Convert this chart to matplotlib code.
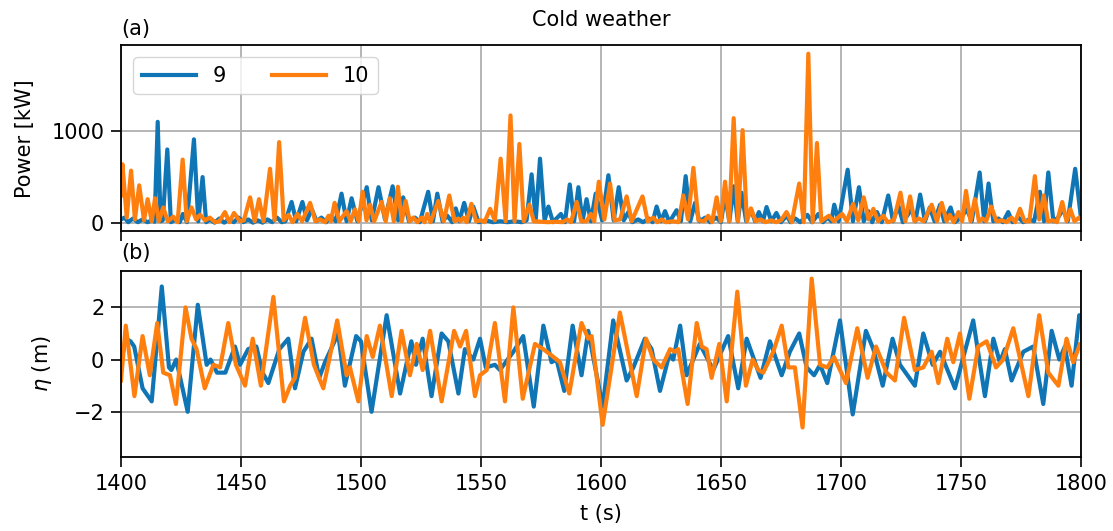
import matplotlib
matplotlib.use("Agg")
import matplotlib.pyplot as plt
import numpy as np

# (t [s], power [kW])
power_9 = [
    (1400, 40), (1401.5, 60), (1403, 10), (1405, 50), (1407, 10), (1409, 40), (1411, 10),
    (1413, 30), (1414, 15), (1415.3, 1100), (1416.5, 20), (1417.4, 30), (1419.3, 800),
    (1420.8, 10), (1423, 40), (1424.5, 10), (1425.8, 100), (1427.5, 10), (1430.4, 910),
    (1432.2, 20), (1434, 500), (1435.5, 10), (1437, 40), (1439, 5), (1441, 50), (1443, 5),
    (1445, 40), (1447, 10), (1449, 60), (1451, 10), (1453, 40), (1455, 5), (1457, 30),
    (1459, 5), (1461, 40), (1463, 10), (1465, 60), (1467, 10), (1468.5, 20), (1471.1, 230),
    (1473, 20), (1475.6, 230), (1477.5, 30), (1479.5, 150), (1481.5, 20), (1483.5, 60),
    (1485.5, 10), (1487.5, 80), (1489.5, 20), (1491.9, 320), (1494, 20), (1496.1, 270),
    (1498.5, 20), (1502.4, 390), (1504.5, 30), (1507.3, 390), (1510, 40), (1513.2, 400),
    (1515.5, 30), (1517.6, 280), (1520, 20), (1522.5, 60), (1524.5, 10), (1528, 340),
    (1530, 20), (1531.8, 320), (1534, 20), (1536, 80), (1538, 10), (1539.5, 160),
    (1541, 20), (1543, 220), (1545, 20), (1546.8, 180), (1549, 10), (1552, 30), (1555, 10),
    (1558, 20), (1561, 10), (1564, 20), (1567, 10), (1569, 30), (1571.1, 530), (1572.8, 30),
    (1574.6, 700), (1576.5, 30), (1578.1, 180), (1580, 10), (1583.3, 100), (1585, 10),
    (1587, 420), (1588.8, 20), (1590.6, 390), (1592.3, 20), (1594, 260), (1595.8, 20),
    (1597.8, 320), (1600.5, 30), (1603.1, 520), (1605.3, 30), (1607.4, 390), (1609.5, 30),
    (1611.4, 120), (1613, 10), (1615.5, 40), (1617.5, 10), (1620, 50), (1621.5, 10),
    (1623.2, 180), (1625, 20), (1626.7, 130), (1628.5, 10), (1631.5, 140), (1633.3, 20),
    (1635.3, 510), (1637.2, 20), (1639.2, 220), (1641, 20), (1643.5, 60), (1645.5, 10),
    (1648, 60), (1650, 10), (1651.7, 300), (1653.5, 20), (1655.3, 400), (1657, 20),
    (1658.6, 330), (1660.5, 20), (1662.5, 150), (1664.2, 20), (1665.8, 120), (1667.5, 20),
    (1669, 175), (1671, 20), (1673.1, 110), (1675, 10), (1677.4, 80), (1679, 10), (1681, 50),
    (1683, 10), (1686, 90), (1688, 10), (1690.6, 100), (1692.5, 10), (1694.5, 60), (1696, 20),
    (1697.2, 200), (1699, 20), (1702.8, 580), (1705, 20), (1707.5, 390), (1709.5, 20),
    (1711.4, 130), (1713, 10), (1715, 120), (1717, 10), (1719.7, 300), (1721.7, 20),
    (1723.9, 190), (1725.8, 10), (1729.4, 150), (1731, 20), (1733, 310), (1735, 20),
    (1737, 170), (1739, 20), (1741.3, 200), (1743, 20), (1745.7, 170), (1747.5, 10),
    (1750, 60), (1752.5, 150), (1754.5, 20), (1757.8, 550), (1759.7, 20), (1761.5, 430),
    (1763.5, 20), (1765.6, 50), (1767.5, 10), (1769.7, 120), (1771.5, 10), (1774, 60),
    (1776, 10), (1778.5, 40), (1780.5, 20), (1782.9, 340), (1784.6, 20), (1786.4, 550),
    (1788.5, 20), (1790.5, 60), (1792.5, 150), (1794.5, 20), (1797.6, 590), (1799.4, 200),
    (1800, 60),
]

power_10 = [
    (1400, 300), (1400.6, 640), (1402.4, 60), (1404.2, 570), (1405.8, 40), (1407.6, 410),
    (1409.6, 30), (1411.1, 260), (1412.8, 20), (1414.2, 270), (1415.8, 20), (1417.6, 170),
    (1419.5, 20), (1421.8, 70), (1423.6, 10), (1425.7, 690), (1427.4, 20), (1429.4, 170),
    (1431.3, 40), (1433, 90), (1435, 30), (1437, 60), (1439.2, 10), (1441, 20), (1443.3, 120),
    (1445.2, 10), (1447.1, 110), (1449.6, 20), (1451.2, 30), (1453.8, 280), (1455.7, 20),
    (1457.5, 260), (1459.4, 20), (1462.1, 590), (1464, 30), (1465.9, 880), (1467.8, 30),
    (1469.8, 90), (1471.5, 10), (1473.5, 100), (1475.5, 20), (1478.8, 220), (1481, 20),
    (1483, 40), (1485, 10), (1486.5, 80), (1487.5, 20), (1489, 220), (1491, 20), (1494, 130),
    (1495.7, 20), (1497.5, 150), (1499, 20), (1500.7, 340), (1502.3, 30), (1503.8, 200),
    (1505.5, 20), (1508.6, 230), (1510.3, 20), (1512, 270), (1513.7, 20), (1515.4, 395),
    (1517, 20), (1518.6, 240), (1520.3, 20), (1521.8, 60), (1523.5, 10), (1525.3, 60),
    (1526.5, 10), (1527.6, 100), (1529, 10), (1532.2, 240), (1534.5, 20), (1536.8, 300),
    (1539, 20), (1540.5, 50), (1541.5, 20), (1542.6, 60), (1544, 10), (1546, 210),
    (1548, 20), (1550, 30), (1551.5, 10), (1553.8, 155), (1555.8, 30), (1558.2, 700),
    (1560.3, 20), (1562.3, 1170), (1564, 20), (1566, 860), (1567.8, 20), (1570.2, 200),
    (1572, 20), (1575, 15), (1578, 10), (1581, 15), (1584, 10), (1586, 40), (1587.5, 10),
    (1589.9, 230), (1591.8, 20), (1594, 20), (1595.8, 100), (1597.2, 20), (1599.1, 450),
    (1601.4, 40), (1603.8, 430), (1605.7, 30), (1608, 40), (1610.7, 290), (1612.8, 20),
    (1617.3, 290), (1619.5, 20), (1621.8, 60), (1623.5, 10), (1625.3, 40), (1627, 10),
    (1630, 20), (1632.3, 10), (1634.3, 300), (1636.3, 40), (1638.5, 600), (1640.6, 30),
    (1643, 20), (1644.7, 80), (1646.3, 10), (1648.2, 280), (1649.9, 20), (1651.7, 450),
    (1653.4, 20), (1655.3, 1140), (1657.1, 20), (1659, 1010), (1660.8, 20), (1662.5, 160),
    (1664.5, 20), (1666.5, 40), (1668.5, 10), (1671, 30), (1673, 10), (1675, 30),
    (1677.3, 120), (1679.5, 10), (1682.6, 430), (1684.5, 10), (1686.4, 1840), (1688.2, 10),
    (1690, 870), (1691.8, 20), (1693.3, 50), (1695, 80), (1697, 20), (1700.5, 100),
    (1702.5, 20), (1705.1, 210), (1707.2, 30), (1709.5, 280), (1711.5, 40), (1713.5, 155),
    (1715.5, 20), (1717.6, 80), (1719.5, 10), (1722, 30), (1724.8, 330), (1726.8, 20),
    (1728.8, 290), (1730.6, 20), (1732.5, 50), (1734.5, 20), (1737.8, 200), (1740, 20),
    (1742, 220), (1744, 20), (1745.4, 90), (1747, 10), (1748.9, 120), (1750.5, 20),
    (1752.1, 350), (1754, 20), (1755.8, 260), (1757.5, 20), (1759, 50), (1760.5, 20),
    (1762.6, 180), (1764.8, 20), (1767, 30), (1769, 10), (1771.1, 60), (1772.6, 10),
    (1774.6, 155), (1776.5, 20), (1778.5, 20), (1780.8, 510), (1782.6, 40), (1784.5, 300),
    (1786.3, 20), (1788.3, 30), (1790, 10), (1792.2, 230), (1794, 20), (1795.6, 150),
    (1797.3, 20), (1799.2, 60), (1800, 40),
]

# (t [s], eta [m])
eta_9 = [
    (1400, -0.1), (1402, 0.8), (1404, 0.7), (1405.5, 0.5), (1409, -1.1), (1410.5, -1.3),
    (1412.8, -1.6), (1417, 2.8), (1420, -0.3), (1421, -0.4), (1423, 0.0), (1427.8, -2.0),
    (1432, 2.1), (1435.7, -0.2), (1437.3, 0.0), (1440, -0.5), (1443.5, -0.5), (1447.5, 0.5),
    (1449.6, -0.2), (1453, 0.4), (1456.4, 0.5), (1459, -0.5), (1461.4, -0.9), (1466, 0.4),
    (1469.7, 0.8), (1472.5, -1.1), (1476, 0.3), (1479.4, 0.8), (1482.6, -0.7), (1485, -0.1),
    (1490.5, 1.0), (1493.3, -1.0), (1498, 0.9), (1500, 0.7), (1504.4, -2.0), (1510.7, 1.7),
    (1516.3, -1.3), (1521, 0.7), (1522.9, -0.2), (1525.7, 0.8), (1529.4, -1.4), (1533.6, 1.0),
    (1536.4, 0.7), (1540.6, -1.3), (1543.3, 0.4), (1546.8, 0.0), (1549.6, 0.8), (1552, -0.3),
    (1555.8, -0.2), (1557.9, -0.4), (1563.5, 0.3), (1567.6, 0.9), (1572, -1.8), (1576, 1.3),
    (1579.4, -0.1), (1581.5, 0.0), (1584.7, -1.2), (1588.2, 1.3), (1591.9, -0.6), (1594.7, 1.1),
    (1600.7, -1.8), (1605.1, 1.5), (1610.7, -0.8), (1613.5, -0.3), (1618.3, 0.8), (1621.1, 0.4),
    (1624.6, -1.2), (1628.5, 0.2), (1630.1, 0.0), (1633, 1.3), (1635.7, -0.6), (1641.2, 0.6),
    (1646.8, -0.4), (1653, 0.9), (1657.2, -1.1), (1660.7, 0.8), (1666.5, -0.7), (1670.4, 0.7),
    (1675.3, -0.6), (1678.7, 0.3), (1682.6, 1.0), (1685.7, -0.3), (1688.8, -0.6), (1691.3, -0.2),
    (1694.3, -0.9), (1699.6, 1.5), (1704.9, -2.1), (1710.4, 1.1), (1713.5, 0.4), (1717.4, -1.0),
    (1721.5, 0.8), (1724.6, -0.2), (1730.8, -1.0), (1734.3, 1.0), (1738.2, -0.2), (1741.3, 0.3),
    (1747.5, -1.1), (1755.1, 1.5), (1760, -1.4), (1763.5, 0.8), (1766.2, -0.1), (1768.3, 0.4),
    (1771.1, -0.8), (1776, 0.3), (1780.1, 0.5), (1784.3, -1.7), (1787.8, 1.1), (1791, 0.0),
    (1793.3, 0.5), (1796.1, -1.0), (1799.3, 1.7), (1800, 1.5),
]

eta_10 = [
    (1400, -0.8), (1402, 1.3), (1405.6, -1.4), (1409, 0.9), (1412, -0.6), (1415.1, 1.4),
    (1417.6, -0.5), (1420.4, -0.6), (1422.9, -1.7), (1426.9, 2.0), (1429.4, 0.8), (1431.5, 0.4),
    (1434.9, -1.1), (1438.5, -0.2), (1441.3, -0.3), (1444.7, 1.4), (1447.9, -0.2), (1451.7, -1.0),
    (1454.9, 0.8), (1458.3, -1.0), (1463.5, 2.4), (1467.9, -1.6), (1470.5, -1.0), (1472.5, -0.7),
    (1476.7, 1.6), (1480.4, -0.2), (1484.3, -1.1), (1490.1, 1.5), (1494, -0.6), (1495.4, -0.3),
    (1498.9, -1.6), (1502.4, 0.9), (1504.9, 0.1), (1507.9, 1.3), (1512.8, -1.4), (1516.9, 1.1),
    (1520.4, -0.6), (1523.2, 0.6), (1525.7, -0.4), (1528.8, 1.1), (1533.6, -1.6), (1538.8, 1.1),
    (1541.3, 0.5), (1543.8, 1.1), (1547.5, -1.4), (1549.6, -0.6), (1552.4, -0.4), (1555.8, 1.4),
    (1560, -1.6), (1563.5, 2.0), (1567.4, -1.5), (1572.5, 0.6), (1576, 0.4), (1578.8, 0.2),
    (1582.9, -0.1), (1586.8, -1.3), (1591.9, 1.4), (1594.7, 0.8), (1596.1, 0.9), (1600.7, -2.5),
    (1607.9, 1.8), (1614.9, -1.4), (1618.8, 0.8), (1621.8, 0.0), (1625.3, -0.3), (1628.8, 0.4),
    (1630.8, 0.3), (1632.2, 0.4), (1636.1, -1.7), (1639.9, 1.4), (1642, 0.5), (1644, 0.4),
    (1646.1, -0.7), (1649.3, 0.6), (1652.4, -1.6), (1656.8, 2.6), (1660.4, -1.0), (1663.2, 0.0),
    (1665.6, -0.4), (1667.6, -0.5), (1671.8, 0.3), (1675.3, 1.3), (1678.1, -0.3), (1680.8, -0.3),
    (1684, -2.6), (1687.8, 3.1), (1691.3, -0.2), (1694.3, -0.3), (1697.1, 0.1), (1702.1, -0.9),
    (1706.8, 1.2), (1711.1, -0.7), (1714.6, 0.5), (1719, -0.5), (1722.5, -0.8), (1726.3, 1.6),
    (1730.8, -0.4), (1734.3, -0.3), (1737.8, 0.3), (1740.6, -0.9), (1744.3, 0.8), (1746.8, -0.1),
    (1749.6, 1.0), (1753.5, -1.5), (1757.2, 0.5), (1760.7, 0.7), (1764.6, -0.3), (1767.6, 0.0),
    (1771.8, 1.2), (1778.1, -1.4), (1782.6, 1.7), (1786.4, -0.5), (1790.6, -1.0), (1794, 0.8),
    (1796.8, -0.1), (1799.6, 0.6), (1800, 0.5),
]

labels = ["9", "10"]
colors = ["#0f75b5", "#ff7f0e"]

plt.rcParams["font.size"] = 15

fig, (ax1, ax2) = plt.subplots(2, 1, sharex=True, figsize=(11.13, 5.31), dpi=100)
fig.subplots_adjust(left=0.1087, right=0.9712, top=0.9153, bottom=0.1394, hspace=0.21)

for data, lab, col in zip([power_9, power_10], labels, colors):
    t, p = np.array(data).T
    ax1.plot(t, p, color=col, lw=3, label=lab, solid_joinstyle="round")
for data, col in zip([eta_9, eta_10], colors):
    t, e = np.array(data).T
    ax2.plot(t, e, color=col, lw=3, solid_joinstyle="round")

ax1.set_ylim(-90, 1935)
ax1.set_yticks([0, 1000])
ax1.set_ylabel("Power [kW]")
ax1.yaxis.set_label_coords(-0.09, 0.5)
ax1.legend(loc="upper left", ncol=2, handlelength=2.6, columnspacing=2.2,
           borderaxespad=0.6)

ax2.set_xlim(1400, 1800)
ax2.set_ylim(-3.73, 3.41)
ax2.set_yticks([-2, 0, 2])
ax2.set_ylabel(r"$\eta$ (m)")
ax2.yaxis.set_label_coords(-0.07, 0.5)
ax2.set_xlabel("t (s)")
ax2.xaxis.set_label_coords(0.5, -0.25)

for ax in (ax1, ax2):
    ax.grid(True, color="#b0b0b0", lw=1.3)
    ax.set_axisbelow(True)
    ax.tick_params(length=7, width=1.2, pad=5)
    for s in ax.spines.values():
        s.set_linewidth(1.3)

fig.text(0.109, 0.945, "(a)", ha="left", va="center")
fig.text(0.54, 0.962, "Cold weather", ha="center", va="center")
fig.text(0.109, 0.523, "(b)", ha="left", va="center")

fig.savefig("out.png", dpi=100)
